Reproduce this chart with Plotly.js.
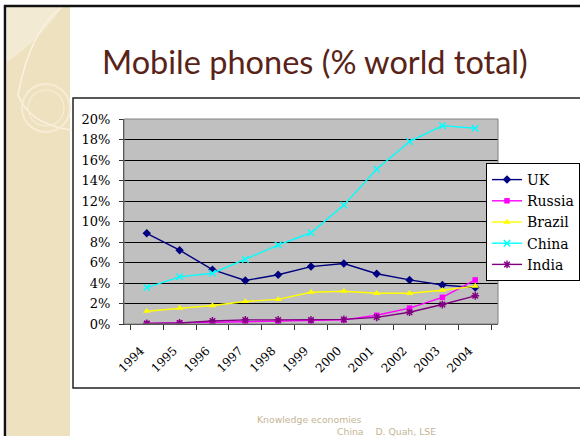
<!DOCTYPE html>
<html>
<head>
<meta charset="utf-8">
<script src="https://cdn.plot.ly/plotly-3.0.1.min.js"></script>
<style>
html,body{margin:0;padding:0;background:#fff;}
#chart{width:580px;height:436px;}
</style>
</head>
<body>
<div id="chart"></div>
<script>
// ---- data ----
var years = ['1994','1995','1996','1997','1998','1999','2000','2001','2002','2003','2004'];
var uk     = [8.85, 7.2, 5.3, 4.25, 4.8, 5.6, 5.9, 4.9, 4.3, 3.8, 3.55];
var russia = [0.05, 0.1, 0.15, 0.25, 0.25, 0.3, 0.4, 0.85, 1.55, 2.6, 4.3];
var brazil = [1.25, 1.55, 1.8, 2.2, 2.4, 3.1, 3.2, 3.0, 3.0, 3.3, 3.7];
var china  = [3.55, 4.6, 4.95, 6.3, 7.7, 8.9, 11.6, 15.1, 17.8, 19.35, 19.1];
var india  = [0.05, 0.1, 0.3, 0.4, 0.4, 0.4, 0.45, 0.65, 1.15, 1.9, 2.75];
var seriesNames = ['UK','Russia','Brazil','China','India'];
var titleText = 'Mobile phones (% world total)';
var footer1 = 'Knowledge economies';
var footer2 = 'China&nbsp;&nbsp;&nbsp;&nbsp;D. Quah, LSE';

// ---- layout geometry ----
var W = 580, H = 436;
var L = 124, R = 498, T = 119, B = 324;
function px(x){ return (x - L) / (R - L); }
function py(y){ return (B - y) / (B - T); }
function P(x, y){ return px(x).toFixed(5) + ',' + py(y).toFixed(5); }

var serif = 'DejaVu Serif, Georgia, serif';
var lw = 1.4;

var traces = [
  {x: years, y: uk, name: seriesNames[0], type: 'scatter', mode: 'lines+markers',
   line: {color: '#000080', width: lw}, marker: {symbol: 'diamond', size: 6.5, color: '#000080'}},
  {x: years, y: russia, name: seriesNames[1], type: 'scatter', mode: 'lines+markers',
   line: {color: '#FF00FF', width: lw}, marker: {symbol: 'square', size: 5.5, color: '#FF00FF'}},
  {x: years, y: brazil, name: seriesNames[2], type: 'scatter', mode: 'lines+markers',
   line: {color: '#FFFF00', width: lw}, marker: {symbol: 'triangle-up', size: 6.5, color: '#FFFF00'}},
  {x: years, y: china, name: seriesNames[3], type: 'scatter', mode: 'lines+markers',
   line: {color: '#00FFFF', width: lw}, marker: {symbol: 'x-thin', size: 6.5, color: '#00FFFF', line: {color: '#00FFFF', width: 1.4}}},
  {x: years, y: india, name: seriesNames[4], type: 'scatter', mode: 'lines+markers',
   line: {color: '#800080', width: lw}, marker: {symbol: 'asterisk', size: 6.5, color: '#800080', line: {color: '#800080', width: 1.4}}}
];

var shapes = [
  // left decorative panel
  {type: 'rect', xref: 'paper', yref: 'paper', layer: 'below',
   x0: px(7), x1: px(70), y0: py(7), y1: py(440),
   fillcolor: '#EEE1BF', line: {width: 0}},
  {type: 'path', xref: 'paper', yref: 'paper', layer: 'below',
   path: 'M' + P(7, 7) + ' L' + P(62, 7) + ' Q' + P(40, 40) + ' ' + P(7, 62) + ' Z',
   fillcolor: '#F3EAD3', line: {width: 0}},
  {type: 'path', xref: 'paper', yref: 'paper', layer: 'below',
   path: 'M' + P(62, 7) + ' Q' + P(30, 30) + ' ' + P(18, 95) + ' Q' + P(30, 125) + ' ' + P(72, 130),
   line: {color: '#FAF3E0', width: 1.5}},
  {type: 'circle', xref: 'paper', yref: 'paper', layer: 'below',
   x0: px(22), x1: px(70), y0: py(84), y1: py(132),
   line: {color: '#F7EDD5', width: 2}},
  {type: 'circle', xref: 'paper', yref: 'paper', layer: 'below',
   x0: px(28), x1: px(64), y0: py(90), y1: py(126),
   line: {color: '#F7EDD5', width: 1.2}},
  // outer frame
  {type: 'line', xref: 'paper', yref: 'paper', x0: px(4), x1: px(585), y0: py(6), y1: py(6),
   line: {color: '#111', width: 2.5}},
  {type: 'line', xref: 'paper', yref: 'paper', x0: px(5), x1: px(5), y0: py(5), y1: py(440),
   line: {color: '#111', width: 2.5}},
  // chart box
  {type: 'rect', xref: 'paper', yref: 'paper', layer: 'below',
   x0: px(73), x1: px(590), y0: py(98), y1: py(388),
   fillcolor: 'rgba(0,0,0,0)', line: {color: '#222', width: 1.5}},
  // plot frame
  {type: 'rect', xref: 'paper', yref: 'paper', x0: 0, x1: 1, y0: 0, y1: 1,
   line: {color: '#808080', width: 1}, fillcolor: 'rgba(0,0,0,0)'}
];

var annotations = [
  {xref: 'paper', yref: 'paper', x: px(255), y: py(419), xanchor: 'left', yanchor: 'middle',
   text: footer1, showarrow: false, font: {family: 'DejaVu Sans, Verdana, sans-serif', size: 9.3, color: '#C5B594'}},
  {xref: 'paper', yref: 'paper', x: px(335), y: py(431), xanchor: 'left', yanchor: 'middle',
   text: footer2, showarrow: false, font: {family: 'DejaVu Sans, Verdana, sans-serif', size: 9.3, color: '#C5B594'}}
];

var layout = {
  width: W, height: H,
  margin: {l: L, r: W - R, t: T, b: H - B, pad: 0, autoexpand: false},
  paper_bgcolor: '#FFFFFF',
  plot_bgcolor: '#C0C0C0',
  showlegend: true,
  title: {text: titleText, xref: 'container', yref: 'container', x: 102 / W, xanchor: 'left',
          y: 1 - 63 / H, yanchor: 'middle',
          font: {family: 'Lato, Open Sans, sans-serif', size: 32.5, color: '#5A2317'}},
  xaxis: {type: 'category', tickson: 'boundaries', ticks: 'outside', ticklen: 5, tickcolor: '#333',
          showline: true, linecolor: '#333', linewidth: 1, showgrid: false, automargin: false,
          ticklabelstandoff: 14, ticklabelshift: -6,
          tickangle: -45, tickfont: {family: serif, size: 12, color: '#000'}, fixedrange: true},
  yaxis: {range: [0, 20], dtick: 2, ticksuffix: '%', ticks: 'outside', ticklen: 4, tickcolor: '#333',
          showline: true, linecolor: '#333', linewidth: 1, showgrid: true, gridcolor: '#000', gridwidth: 1,
          zeroline: false, automargin: false, ticklabelstandoff: 6,
          tickfont: {family: serif, size: 13, color: '#000'}, fixedrange: true},
  legend: {xref: 'container', yref: 'container', x: 486 / W, xanchor: 'left', y: 1 - 163 / H, yanchor: 'top',
           bgcolor: '#FFFFFF', bordercolor: '#000', borderwidth: 1,
           font: {family: serif, size: 14, color: '#000'}},
  shapes: shapes,
  annotations: annotations
};

Plotly.newPlot('chart', traces, layout, {displayModeBar: false, staticPlot: true});
</script>
</body>
</html>
